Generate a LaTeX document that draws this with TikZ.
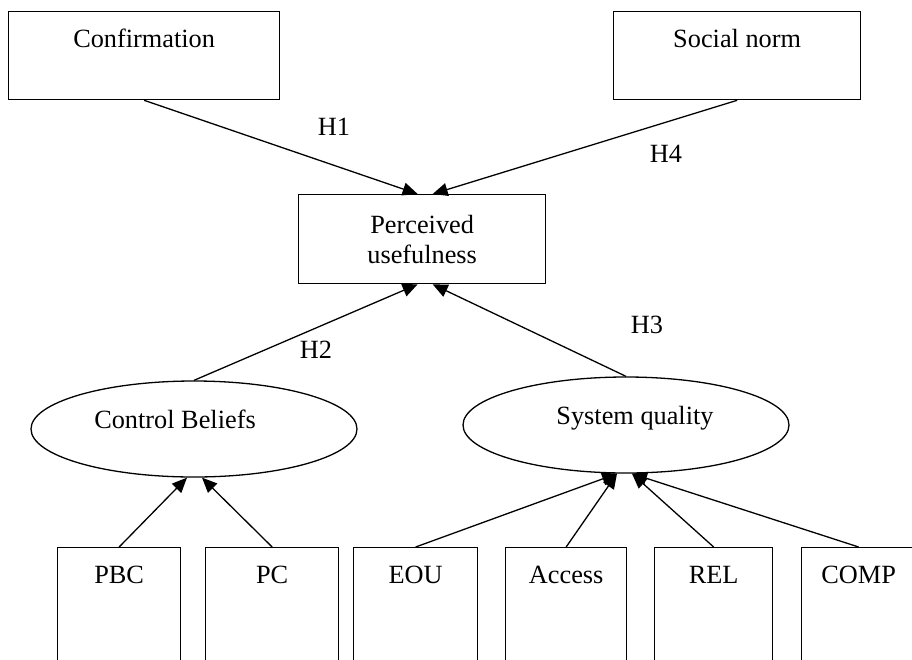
\documentclass[tikz,border=0pt]{standalone}
\usepackage{fontspec}
\setmainfont{Liberation Serif}
\usetikzlibrary{arrows.meta,shapes.geometric}
\begin{document}
\begin{tikzpicture}[x=1pt,y=-1pt,line width=1.3pt,
  every node/.style={font=\fontsize{26.3}{30.2}\selectfont},
  topbox/.style={draw,rectangle,inner sep=0pt,minimum width=#1,text height=36pt,text depth=52pt,anchor=north west},
  botbox/.style={draw,rectangle,inner sep=0pt,minimum width=#1,text height=36pt,text depth=94pt,anchor=north west},
  midbox/.style={draw,rectangle,inner sep=0pt,minimum width=247pt,minimum height=89pt,align=center,anchor=north west},
  ell/.style={draw,ellipse,inner sep=0pt,minimum width=326pt,minimum height=96pt},
  lab/.style={anchor=base,inner sep=0pt},
  arr/.style={-{Triangle[length=15pt,width=13pt]}}]
\useasboundingbox (0,0) rectangle (912,659);
\clip (0,0) rectangle (912,659);
% top boxes
\node[topbox=271pt] (conf) at (8,11) {Confirmation};
\node[topbox=247pt] (sn) at (613,11) {Social norm};
% perceived usefulness
\node[midbox] (pu) at (298,194) {Perceived\\usefulness};
% ellipses
\node[ell] (cb) at (194,429) {};
\node[lab] (cbt) at (175,428) {Control Beliefs};
\node[ell] (sq) at (626,425) {};
\node[lab] (sqt) at (635,424) {System quality};
% bottom boxes
\node[botbox=123pt] (pbc) at (57,547) {PBC};
\node[botbox=133pt] (pc) at (205,547) {PC};
\node[botbox=124pt] (eou) at (353,547) {EOU};
\node[botbox=121pt] (acc) at (505,547) {Access};
\node[botbox=118pt] (rel) at (654,547) {REL};
\node[botbox=114pt] (comp) at (801,547) {COMP};
% labels
\node[lab] (h1) at (334,135) {H1};
\node[lab] (h4) at (666,162) {H4};
\node[lab] (h2) at (316,358) {H2};
\node[lab] (h3) at (647,333) {H3};
% connectors
\draw[arr] (conf.south) -- ([xshift=-4.5pt]pu.north);
\draw[arr] (sn.south) -- ([xshift=10.5pt]pu.north);
\draw[arr] (cb.north) -- ([xshift=-4.5pt]pu.south);
\draw[arr] (sq.north) -- ([xshift=10.5pt]pu.south);
\draw[arr] (pbc.north) -- ([xshift=-7pt]cb.south);
\draw[arr] (pc.north) -- ([xshift=8pt]cb.south);
\draw[arr] (eou.north) -- ([xshift=-9pt]sq.south);
\draw[arr] (acc.north) -- ([xshift=-9pt]sq.south);
\draw[arr] (rel.north) -- ([xshift=6pt]sq.south);
\draw[arr] (comp.north) -- ([xshift=6pt]sq.south);
\end{tikzpicture}
\end{document}
